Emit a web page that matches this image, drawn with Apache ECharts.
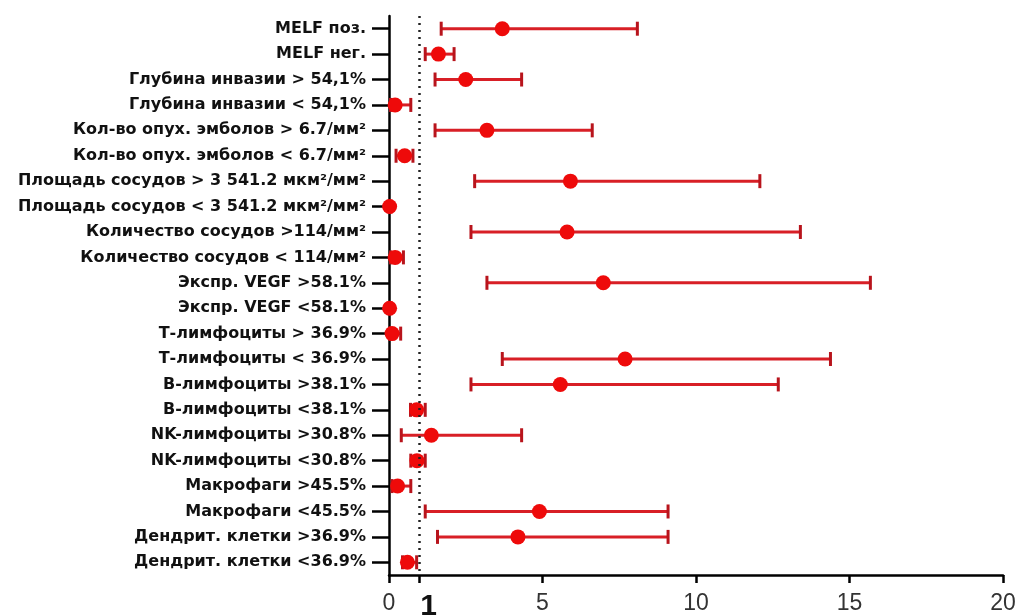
<!DOCTYPE html>
<html><head><meta charset="utf-8">
<script src="https://cdn.jsdelivr.net/npm/echarts@6/dist/echarts.min.js"></script>
<style>html,body{margin:0;padding:0;background:#fff}#c{width:1021px;height:615px}</style>
</head><body><div id="c"></div>
<script>
const categories = [
  'MELF поз.',
  'MELF нег.',
  'Глубина инвазии > 54,1%',
  'Глубина инвазии < 54,1%',
  'Кол-во опух. эмболов > 6.7/мм²',
  'Кол-во опух. эмболов < 6.7/мм²',
  'Площадь сосудов > 3 541.2 мкм²/мм²',
  'Площадь сосудов < 3 541.2 мкм²/мм²',
  'Количество сосудов >114/мм²',
  'Количество сосудов < 114/мм²',
  'Экспр. VEGF >58.1%',
  'Экспр. VEGF <58.1%',
  'Т-лимфоциты > 36.9%',
  'Т-лимфоциты < 36.9%',
  'В-лимфоциты >38.1%',
  'В-лимфоциты <38.1%',
  'NK-лимфоциты >30.8%',
  'NK-лимфоциты <30.8%',
  'Макрофаги >45.5%',
  'Макрофаги <45.5%',
  'Дендрит. клетки >36.9%',
  'Дендрит. клетки <36.9%'
];
const estimates = [3.69, 1.61, 2.50, 0.20, 3.19, 0.51, 5.91, 0.02, 5.80, 0.20, 6.98, 0.02, 0.10, 7.69, 5.58, 0.90, 1.38, 0.91, 0.28, 4.90, 4.20, 0.60];
const lower     = [1.70, 1.18, 1.50, 0.05, 1.50, 0.23, 2.79, 0.00, 2.67, 0.05, 3.19, 0.00, 0.03, 3.69, 2.67, 0.70, 0.40, 0.71, 0.10, 1.18, 1.58, 0.44];
const upper     = [8.09, 2.12, 4.32, 0.71, 6.62, 0.78, 12.08, 0.06, 13.40, 0.47, 15.68, 0.06, 0.38, 14.38, 12.68, 1.18, 4.32, 1.18, 0.71, 9.09, 9.09, 0.90];
const xTickValues = [0, 1, 5, 10, 15, 20];
const xLabelValues = [0, 1, 5, 10, 15, 20];
const referenceLine = 1;

const chart = echarts.init(document.getElementById('c'), null, {renderer: 'canvas'});
const ciData = categories.map((c, i) => [lower[i], upper[i], i]);
const pointData = categories.map((c, i) => [estimates[i], i]);

chart.setOption({
  animation: false,
  backgroundColor: '#fff',
  grid: {left: 389, right: 18, top: 16, bottom: 40, containLabel: false, outerBoundsMode: 'none'},
  xAxis: {
    type: 'value', min: 0, max: 20, interval: 5,
    axisLine: {show: true, lineStyle: {color: '#000', width: 2.5}},
    axisTick: {show: true, customValues: xTickValues, length: 8, lineStyle: {color: '#000', width: 2.5}},
    splitLine: {show: false},
    axisLabel: {
      customValues: xLabelValues, margin: 17,
      formatter: v => v === 1 ? '{one|1}' : '{n|' + v + '}',
      rich: {
        one: {fontFamily: 'Liberation Sans', fontSize: 30, fontWeight: 'bold', color: '#111', padding: [0, 0, 0, 18]},
        n: {fontFamily: 'Liberation Sans', fontSize: 23, color: '#333'}
      }
    }
  },
  yAxis: {
    type: 'category', data: categories, inverse: true,
    axisLine: {show: true, lineStyle: {color: '#000', width: 2.5}},
    axisTick: {show: true, alignWithLabel: true, length: 17, lineStyle: {color: '#000', width: 2.5}},
    splitLine: {show: false},
    axisLabel: {fontFamily: 'DejaVu Sans', fontWeight: 'bold', fontSize: 16, color: '#111', margin: 23}
  },
  series: [
    {
      type: 'custom', z: 3,
      data: ciData,
      encode: {x: [0, 1], y: 2},
      renderItem: function (params, api) {
        const p1 = api.coord([api.value(0), api.value(2)]);
        const p2 = api.coord([api.value(1), api.value(2)]);
        const h = 7;
        return {
          type: 'group',
          children: [
            {type: 'line', shape: {x1: p1[0], y1: p1[1], x2: p2[0], y2: p2[1]}, style: {stroke: '#d81f26', lineWidth: 3}},
            {type: 'line', shape: {x1: p1[0], y1: p1[1] - h, x2: p1[0], y2: p1[1] + h}, style: {stroke: '#b8141c', lineWidth: 3}},
            {type: 'line', shape: {x1: p2[0], y1: p2[1] - h, x2: p2[0], y2: p2[1] + h}, style: {stroke: '#b8141c', lineWidth: 3}}
          ]
        };
      }
    },
    {
      type: 'scatter', z: 4,
      data: pointData,
      symbol: 'circle', symbolSize: 15,
      itemStyle: {color: '#ee0a0a', opacity: 1},
      markLine: {
        silent: true, symbol: 'none',
        label: {show: false},
        lineStyle: {color: '#222', width: 2.5, type: [2, 5]},
        data: [{xAxis: referenceLine}]
      }
    }
  ]
});
</script></body></html>
